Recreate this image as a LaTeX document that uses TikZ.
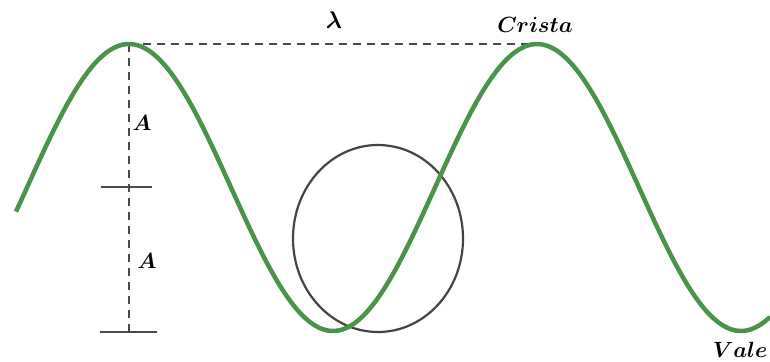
\RequirePackage{fix-cm}
\documentclass[tikz,border=0pt]{standalone}
\usepackage{bm}
\usetikzlibrary{calc}
\tikzset{
  wave/.style={line width=4.5pt, color=wavegreen},
  guide/.style={line width=2.2pt, color=guidegray, dash pattern=on 8pt off 6pt},
  tickline/.style={line width=2.4pt, color=guidegray},
  circ/.style={line width=2.2pt, color=circgray},
  lbl/.style={font=\fontsize{22}{26}\selectfont, text=black, inner sep=0pt}
}
\definecolor{wavegreen}{HTML}{4A944A}
\definecolor{guidegray}{HTML}{4A4A4A}
\definecolor{circgray}{HTML}{444444}
\begin{document}
\begin{tikzpicture}[x=1pt,y=-1pt]
\useasboundingbox (0,0) rectangle (770,361);
\coordinate (c1) at (129,44);
\coordinate (c2) at (538,44);
\coordinate (mid) at (129,187);
\coordinate (bot) at (129,332);
\coordinate (m1) at (101,187);
\coordinate (m2) at (152,187);
\coordinate (b1) at (100,332);
\coordinate (b2) at (157,332);
\draw[guide] (c1) -- (c2);
\draw[guide] (c1) -- (bot);
\draw[tickline] (m1) -- (m2);
\draw[tickline] (b1) -- (b2);
\draw[circ] (378,238.5) ellipse [x radius=85, y radius=93.5];
\draw[wave] plot[domain=16:770, samples=200, smooth] (\x, {187.5-143.5*cos((\x-129)/408*360)});
\node[lbl, font=\fontsize{24}{28}\selectfont] (lam) at (334,20.5) {$\bm{\lambda}$};
\node[lbl] (crista) at (535,25) {$\bm{Crista}$};
\node[lbl] (vale) at (740,350) {$\bm{Vale}$};
\node[lbl] (a1) at (142,122.5) {$\bm{A}$};
\node[lbl] (a2) at (147,260.5) {$\bm{A}$};
\end{tikzpicture}
\end{document}
